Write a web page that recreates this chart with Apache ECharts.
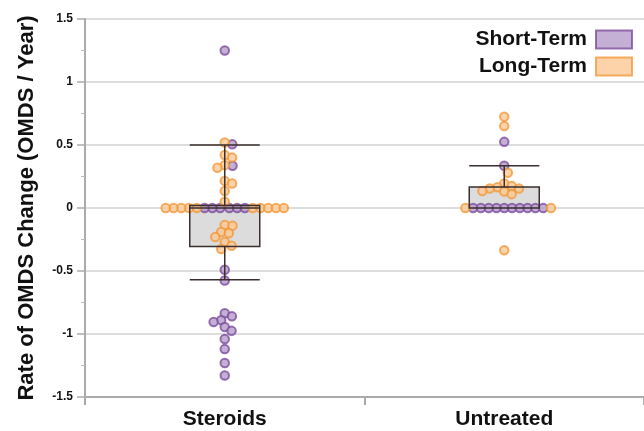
<!DOCTYPE html>
<html>
<head>
<meta charset="utf-8">
<script src="https://cdn.jsdelivr.net/npm/echarts@6/dist/echarts.min.js"></script>
<style>
    html, body { margin: 0; padding: 0; background: #fff; }
    #main { width: 644px; height: 431px; }
</style>
</head>
<body>
<div id="main"></div>
<script>
    var categories = ['Steroids', 'Untreated'];
    var yTicks = [-1.5, -1, -0.5, 0, 0.5, 1, 1.5];

    // box stats: [lower whisker, Q1, median, Q3, upper whisker]
    var boxSteroids = [-0.57, -0.305, 0, 0.02, 0.5];
    var boxUntreated = [0, 0, 0, 0.167, 0.335];

    var steroidsShort = [1.25, 0.505, 0.335, 0, 0, 0, 0, 0, 0, -0.49, -0.575, -0.835, -0.86, -0.89, -0.905, -0.945, -0.975, -1.04, -1.12, -1.23, -1.33];
    var steroidsLong = [0.52, 0.42, 0.40, 0.34, 0.32, 0.215, 0.195, 0.135, 0.05, 0, 0, 0, 0, 0, 0, 0, 0, 0, 0, -0.135, -0.14, -0.19, -0.2, -0.23, -0.27, -0.3, -0.325];
    var untreatedShort = [0.525, 0.335, 0, 0, 0, 0, 0, 0, 0, 0, 0, 0];
    var untreatedLong = [0.725, 0.65, 0.28, 0.195, 0.175, 0.165, 0.155, 0.155, 0.135, 0.13, 0.11, 0, 0, -0.335];

    var myChart = echarts.init(document.getElementById('main'));

    var grid = { left: 85, right: -1, top: 19, bottom: 34 };
    var pxPerY = (myChart.getHeight() - grid.top - grid.bottom) / (yTicks[yTicks.length - 1] - yTicks[0]);
    var pxPerX = (myChart.getWidth() - grid.left - grid.right) / categories.length;

    // simple beeswarm: each point goes to the free spot closest to the centre
    function swarm(shortVals, longVals, groupIndex, dist) {
        var items = [];
        var n = Math.max(shortVals.length, longVals.length);
        for (var i = 0; i < n; i++) {
            if (i < shortVals.length) items.push({ v: shortVals[i], t: 's' });
            if (i < longVals.length) items.push({ v: longVals[i], t: 'l' });
        }
        items.sort(function(a, b) { return b.v - a.v; });
        var placed = [];
        items.forEach(function(it) {
            var y = it.v * pxPerY;
            var cands = [0], blocks = [];
            placed.forEach(function(p) {
                var dy = Math.abs(p.y - y);
                if (dy < dist) {
                    var w = Math.sqrt(dist * dist - dy * dy);
                    blocks.push([p.x - w, p.x + w]);
                    cands.push(p.x - w, p.x + w);
                }
            });
            cands.sort(function(a, b) { return Math.abs(a) - Math.abs(b) || b - a; });
            var x = 0;
            for (var k = 0; k < cands.length; k++) {
                var c = cands[k];
                var ok = blocks.every(function(b) { return c <= b[0] + 1e-6 || c >= b[1] - 1e-6; });
                if (ok) { x = c; break; }
            }
            placed.push({ x: x, y: y, v: it.v, t: it.t });
        });
        var out = { s: [], l: [] };
        placed.forEach(function(p) {
            out[p.t].push([groupIndex + p.x / pxPerX, p.v]);
        });
        return out;
    }

    var sw1 = swarm(steroidsShort, steroidsLong, 0, 7.8);
    var sw2 = swarm(untreatedShort, untreatedLong, 1, 7.8);

    var purple = { color: '#b59bcb', borderColor: '#7d4e9e', borderWidth: 2 };
    var orange = { color: '#fcc894', borderColor: '#f39a3c', borderWidth: 2 };
    var fontFam = 'Liberation Sans, Arial, sans-serif';

    var option = {
        animation: false,
        grid: grid,
        legend: {
            orient: 'vertical',
            right: 6,
            top: 24,
            align: 'right',
            itemWidth: 36,
            itemHeight: 18,
            itemGap: 6,
            icon: 'rect',
            textStyle: { fontSize: 21, fontWeight: 'bold', color: '#111', fontFamily: fontFam, padding: [0, 4, 0, 0] },
            data: [
                { name: 'Short-Term', itemStyle: purple },
                { name: 'Long-Term', itemStyle: orange }
            ]
        },
        xAxis: [{
            type: 'category',
            data: categories,
            axisLine: { onZero: false, lineStyle: { color: '#aaa', width: 2 } },
            axisTick: { show: true, length: 8, lineStyle: { color: '#aaa', width: 2 } },
            axisLabel: { fontSize: 21, fontWeight: 'bold', color: '#111', margin: 12, fontFamily: fontFam },
            splitLine: { show: false }
        }, {
            type: 'value',
            min: -0.5,
            max: 1.5,
            show: false
        }, {
            type: 'category',
            data: categories,
            show: false
        }],
        yAxis: {
            type: 'value',
            min: yTicks[0],
            max: yTicks[yTicks.length - 1],
            interval: 0.5,
            name: 'Rate of OMDS Change (OMDS / Year)',
            nameLocation: 'middle',
            nameGap: 47,
            nameTextStyle: { fontSize: 22, fontWeight: 'bold', color: '#111', fontFamily: fontFam },
            axisLine: { show: true, onZero: false, lineStyle: { color: '#aaa', width: 2 } },
            axisTick: { show: true, length: 8, lineStyle: { color: '#aaa', width: 1.5 } },
            minorTick: { show: true, splitNumber: 2, length: 4, lineStyle: { color: '#bbb' } },
            axisLabel: { fontSize: 12, fontWeight: 'bold', color: '#111', margin: 12, fontFamily: fontFam },
            splitLine: { show: true, lineStyle: { color: '#ddd', width: 2 } }
        },
        series: [{
            name: 'boxFill',
            type: 'boxplot',
            xAxisIndex: 0,
            boxWidth: [70, 70],
            z: 1,
            silent: true,
            itemStyle: { color: '#dcdcdc', borderWidth: 0, borderColor: 'rgba(0,0,0,0)' },
            data: [boxSteroids, boxUntreated]
        }, {
            name: 'Short-Term',
            type: 'scatter',
            xAxisIndex: 1,
            symbolSize: 8.5,
            z: 2,
            itemStyle: purple,
            data: sw1.s.concat(sw2.s)
        }, {
            name: 'Long-Term',
            type: 'scatter',
            xAxisIndex: 1,
            symbolSize: 8.5,
            z: 2,
            itemStyle: orange,
            data: sw1.l.concat(sw2.l)
        }, {
            name: 'boxLines',
            type: 'boxplot',
            xAxisIndex: 2,
            boxWidth: [70, 70],
            z: 3,
            silent: true,
            itemStyle: { color: 'rgba(0,0,0,0)', borderColor: '#3a2e2e', borderWidth: 1.5 },
            data: [boxSteroids, boxUntreated]
        }]
    };
    myChart.setOption(option);
</script>
</body>
</html>
